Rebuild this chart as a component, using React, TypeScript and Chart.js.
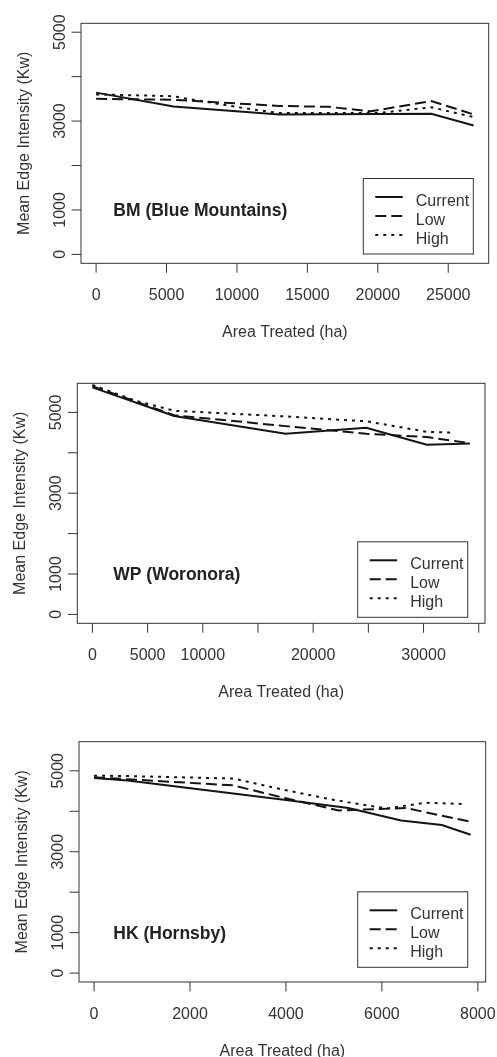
import React, { useEffect, useRef } from 'react';
import Chart from 'chart.js/auto';

// Scenario names, in legend order
const scenarioNames = ['Current', 'Low', 'High'];

// BM (Blue Mountains): area treated (ha) and mean edge intensity (Kw)
const bmCurrentArea = [0, 5500, 13000, 23800, 26800];
const bmCurrentMei = [3640, 3330, 3150, 3165, 2900];
const bmLowArea = [0, 5500, 13000, 16500, 19500, 23800, 26800];
const bmLowMei = [3500, 3480, 3340, 3320, 3220, 3450, 3150];
const bmHighArea = [0, 5400, 10500, 13000, 20000, 23800, 26800];
const bmHighMei = [3600, 3560, 3290, 3180, 3180, 3310, 3090];

// WP (Woronora)
const wpCurrentArea = [0, 7400, 17500, 24800, 30300, 34200];
const wpCurrentMei = [5620, 4910, 4470, 4620, 4200, 4230];
const wpLowArea = [0, 7400, 17500, 24800, 30300, 34200];
const wpLowMei = [5650, 4930, 4660, 4470, 4390, 4240];
const wpHighArea = [0, 4000, 7400, 17500, 24800, 30300, 32800];
const wpHighMei = [5680, 5280, 5040, 4900, 4780, 4520, 4500];

// HK (Hornsby)
const hkCurrentArea = [0, 700, 4000, 5300, 6400, 7250, 7850];
const hkCurrentMei = [4820, 4760, 4280, 4080, 3770, 3660, 3420];
const hkLowArea = [0, 2900, 4000, 5100, 6500, 7850];
const hkLowMei = [4840, 4640, 4320, 4020, 4080, 3740];
const hkHighArea = [0, 700, 2900, 4000, 5000, 6100, 6900, 7700];
const hkHighMei = [4880, 4870, 4810, 4520, 4280, 4070, 4210, 4180];

// Axis ticks and their labels (blank = tick without label)
const bmXTicks = [0, 5000, 10000, 15000, 20000, 25000];
const bmXLabels = ['0', '5000', '10000', '15000', '20000', '25000'];
const wpXTicks = [0, 5000, 10000, 15000, 20000, 25000, 30000, 35000];
const wpXLabels = ['0', '5000', '10000', '', '20000', '', '30000', ''];
const hkXTicks = [0, 2000, 4000, 6000, 8000];
const hkXLabels = ['0', '2000', '4000', '6000', '8000'];
const yTicks = [0, 1000, 2000, 3000, 4000, 5000];
const yLabels = ['0', '1000', '', '3000', '', '5000'];

const xTitle = 'Area Treated (ha)';
const yTitle = 'Mean Edge Intensity (Kw)';

const INK = '#333333';
const LINE = '#141414';
const FONT = '"Liberation Sans", Arial, Helvetica, sans-serif';
const dashes: number[][] = [[], [11, 5], [3, 5]];

// R-style axis range: data range padded by 4% on each side
function padRange(lo: number, hi: number) {
  const d = (hi - lo) * 0.04;
  return { min: lo - d, max: hi + d };
}

function pairs(xs: number[], ys: number[]) {
  return xs.map((x, i) => ({ x, y: ys[i] }));
}

type PanelSpec = {
  name: string;
  top: number;
  height: number;
  padding: { left: number; top: number; right: number; bottom: number };
  xMax: number;
  yMax: number;
  xTicks: number[];
  xLabels: string[];
  series: { area: number[]; mei: number[] }[];
  legendRightGap: number;
  legendBottomGap: number;
};

const panels: PanelSpec[] = [
  {
    name: 'BM (Blue Mountains)',
    top: 0,
    height: 345,
    padding: { left: 81, top: 23.3, right: 8.3, bottom: 81.7 },
    xMax: 26800,
    yMax: 5000,
    xTicks: bmXTicks,
    xLabels: bmXLabels,
    series: [
      { area: bmCurrentArea, mei: bmCurrentMei },
      { area: bmLowArea, mei: bmLowMei },
      { area: bmHighArea, mei: bmHighMei },
    ],
    legendRightGap: 15.4,
    legendBottomGap: 9.3,
  },
  {
    name: 'WP (Woronora)',
    top: 345,
    height: 355,
    padding: { left: 77.3, top: 38.3, right: 12, bottom: 76.7 },
    xMax: 34200,
    yMax: 5500,
    xTicks: wpXTicks,
    xLabels: wpXLabels,
    series: [
      { area: wpCurrentArea, mei: wpCurrentMei },
      { area: wpLowArea, mei: wpLowMei },
      { area: wpHighArea, mei: wpHighMei },
    ],
    legendRightGap: 17.3,
    legendBottomGap: 6,
  },
  {
    name: 'HK (Hornsby)',
    top: 700,
    height: 357,
    padding: { left: 79, top: 41.7, right: 11.3, bottom: 75 },
    xMax: 7850,
    yMax: 5500,
    xTicks: hkXTicks,
    xLabels: hkXLabels,
    series: [
      { area: hkCurrentArea, mei: hkCurrentMei },
      { area: hkLowArea, mei: hkLowMei },
      { area: hkHighArea, mei: hkHighMei },
    ],
    legendRightGap: 18,
    legendBottomGap: 14.7,
  },
];

function makeFramePlugin(spec: PanelSpec) {
  return {
    id: 'rFrame',
    afterDatasetsDraw(chart: any) {
      const { ctx, chartArea: a, scales } = chart;
      const xs = scales.x;
      const ys = scales.y;
      ctx.save();
      ctx.strokeStyle = INK;
      ctx.fillStyle = INK;
      ctx.lineWidth = 1;
      ctx.setLineDash([]);

      // plot box
      ctx.strokeRect(a.left, a.top, a.right - a.left, a.bottom - a.top);

      // x axis ticks and labels
      ctx.font = `16px ${FONT}`;
      ctx.textAlign = 'center';
      ctx.textBaseline = 'alphabetic';
      spec.xTicks.forEach((v, i) => {
        const px = xs.getPixelForValue(v);
        ctx.beginPath();
        ctx.moveTo(px, a.bottom);
        ctx.lineTo(px, a.bottom + 9.4);
        ctx.stroke();
        if (spec.xLabels[i]) ctx.fillText(spec.xLabels[i], px, a.bottom + 37);
      });

      // y axis ticks and rotated labels
      yTicks.forEach((v, i) => {
        const py = ys.getPixelForValue(v);
        ctx.beginPath();
        ctx.moveTo(a.left, py);
        ctx.lineTo(a.left - 9.4, py);
        ctx.stroke();
        if (yLabels[i]) {
          ctx.save();
          ctx.translate(a.left - 16.5, py);
          ctx.rotate(-Math.PI / 2);
          ctx.fillText(yLabels[i], 0, 0);
          ctx.restore();
        }
      });

      // axis titles
      ctx.fillText(xTitle, (a.left + a.right) / 2, a.bottom + 73.5);
      ctx.save();
      ctx.translate(a.left - 52.5, (a.top + a.bottom) / 2);
      ctx.rotate(-Math.PI / 2);
      ctx.fillText(yTitle, 0, 0);
      ctx.restore();

      // region name
      ctx.font = `bold 17.5px ${FONT}`;
      ctx.textAlign = 'left';
      ctx.fillStyle = '#222';
      ctx.fillText(spec.name, 113.3, ys.getPixelForValue(1000) + 6.3);

      // legend
      const lw = 110;
      const lh = 75.5;
      const lx = a.right - spec.legendRightGap - lw;
      const ly = a.bottom - spec.legendBottomGap - lh;
      ctx.strokeStyle = INK;
      ctx.lineWidth = 1;
      ctx.strokeRect(lx, ly, lw, lh);
      ctx.font = `16px ${FONT}`;
      ctx.fillStyle = INK;
      scenarioNames.forEach((n, i) => {
        const ry = ly + 18.5 + i * 19;
        ctx.save();
        ctx.strokeStyle = LINE;
        ctx.lineWidth = 2;
        ctx.setLineDash(dashes[i]);
        ctx.beginPath();
        ctx.moveTo(lx + 12, ry);
        ctx.lineTo(lx + 39.5, ry);
        ctx.stroke();
        ctx.restore();
        ctx.fillText(n, lx + 52.5, ry + 8.5);
      });
      ctx.restore();
    },
  };
}

function Panel({ spec }: { spec: PanelSpec }) {
  const ref = useRef<HTMLCanvasElement | null>(null);
  useEffect(() => {
    if (!ref.current) return;
    const xr = padRange(0, spec.xMax);
    const yr = padRange(0, spec.yMax);
    const chart = new Chart(ref.current, {
      type: 'line',
      data: {
        datasets: spec.series.map((s, i) => ({
          label: scenarioNames[i],
          data: pairs(s.area, s.mei),
          borderColor: LINE,
          borderWidth: 2,
          borderDash: dashes[i],
          pointRadius: 0,
          tension: 0,
          fill: false,
        })),
      },
      options: {
        animation: false,
        responsive: false,
        devicePixelRatio: 1,
        parsing: false,
        layout: { padding: spec.padding },
        plugins: { legend: { display: false }, tooltip: { enabled: false } },
        scales: {
          x: { type: 'linear', display: false, min: xr.min, max: xr.max },
          y: { type: 'linear', display: false, min: yr.min, max: yr.max },
        },
      },
      plugins: [makeFramePlugin(spec)],
    } as any);
    return () => chart.destroy();
  }, [spec]);
  return (
    <canvas
      ref={ref}
      width={497}
      height={spec.height}
      style={{ position: 'absolute', left: 0, top: spec.top, width: 497, height: spec.height }}
    />
  );
}

export default function App() {
  return (
    <div style={{ position: 'absolute', left: 0, top: 0, width: 497, height: 1057, background: '#fff' }}>
      {panels.map((p) => (
        <Panel key={p.name} spec={p} />
      ))}
    </div>
  );
}
